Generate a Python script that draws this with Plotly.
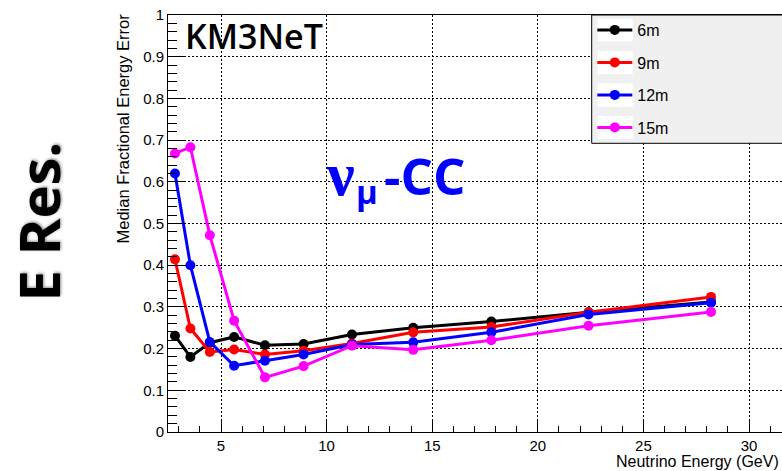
import plotly.graph_objects as go

# Median fractional energy error vs neutrino energy, for several string spacings
energy = [2.82, 3.55, 4.47, 5.62, 7.08, 8.91, 11.2, 14.1, 17.8, 22.4, 28.2]
err_6m = [0.231, 0.180, 0.214, 0.228, 0.208, 0.211, 0.234, 0.250, 0.265, 0.287, 0.312]
err_9m = [0.414, 0.248, 0.192, 0.198, 0.186, 0.195, 0.212, 0.239, 0.252, 0.287, 0.324]
err_12m = [0.620, 0.400, 0.216, 0.159, 0.171, 0.186, 0.210, 0.215, 0.239, 0.282, 0.310]
err_15m = [0.668, 0.683, 0.472, 0.267, 0.131, 0.158, 0.207, 0.197, 0.220, 0.255, 0.288]

series_names = ["6m", "9m", "12m", "15m"]
series_values = [err_6m, err_9m, err_12m, err_15m]
series_colors = ["#000000", "#ff0000", "#0000ff", "#ff00ff"]

W, H = 782, 471
L, R, T, B = 168, 0, 15, 39
PW, PH = W - L - R, H - T - B


def px(x):
    """figure pixel column -> paper x"""
    return (x - L) / PW


def py(y):
    """figure pixel row -> paper y"""
    return (H - B - y) / PH


fig = go.Figure()
legend_ids = ["legend", "legend2", "legend3", "legend4"]
for name, vals, col, lid in zip(series_names, series_values, series_colors, legend_ids):
    fig.add_trace(go.Scatter(
        x=energy, y=vals, name=name, mode="lines+markers",
        line=dict(color=col, width=3),
        marker=dict(color=col, size=10),
        legend=lid,
    ))

tick_font = dict(family="Liberation Sans, Arial", size=15, color="black")

fig.update_xaxes(
    range=[2.49, 31.56], tick0=0, dtick=5,
    ticks="inside", ticklen=12, tickcolor="black", tickwidth=1,
    minor=dict(dtick=1, ticks="inside", ticklen=6, tickcolor="black", showgrid=False),
    showline=True, linecolor="black", linewidth=1, mirror=True,
    showgrid=True, gridcolor="black", gridwidth=1, griddash="2px,2px",
    zeroline=False, tickfont=tick_font,
)
fig.update_yaxes(
    range=[0, 1], tick0=0, dtick=0.1,
    ticks="inside", ticklen=18, tickcolor="black", tickwidth=1,
    minor=dict(dtick=0.02, ticks="inside", ticklen=9, tickcolor="black", showgrid=False),
    showline=True, linecolor="black", linewidth=1, mirror=False,
    showgrid=True, gridcolor="black", gridwidth=1, griddash="2px,2px",
    zeroline=False, tickfont=tick_font,
)

# Legend frame and white symbol patches
legend_rows = [30, 62.5, 95, 127.5]
shapes = [dict(type="rect", xref="paper", yref="paper",
               x0=px(591.7), x1=1.2, y0=py(143.3), y1=1.0,
               fillcolor="#f0f0f0", line=dict(color="black", width=1), layer="above")]
for yc in legend_rows:
    shapes.append(dict(type="rect", xref="paper", yref="paper",
                       x0=px(597.3), x1=px(632.7), y0=py(yc + 11.5), y1=py(yc - 11.5),
                       fillcolor="white", line=dict(width=0), layer="above"))

legend_style = dict(xanchor="left", yanchor="middle", bgcolor="rgba(0,0,0,0)",
                    borderwidth=0, itemwidth=35,
                    font=dict(family="Liberation Sans, Arial", size=16, color="black"))
legends = {}
for lid, yc in zip(legend_ids, legend_rows):
    legends[lid] = dict(x=px(592.3), y=py(yc), **legend_style)

annotations = [
    dict(text="KM3NeT", xref="paper", yref="paper", x=px(183), y=py(35.5),
         xanchor="left", yanchor="middle", showarrow=False,
         font=dict(family="Open Sans", size=34, weight=600, color="black")),
    dict(text="ν", xref="paper", yref="paper", x=px(340), y=py(174),
         xanchor="center", yanchor="middle", showarrow=False,
         font=dict(family="Liberation Serif", size=62, weight="bold", color="#0000ff")),
    dict(text="μ", xref="paper", yref="paper", x=px(367), y=py(191),
         xanchor="center", yanchor="middle", showarrow=False,
         font=dict(family="Open Sans", size=33, weight="bold", color="#0000ff")),
    dict(text="-CC", xref="paper", yref="paper", x=px(424), y=py(175),
         xanchor="center", yanchor="middle", showarrow=False,
         font=dict(family="Open Sans", size=51, weight="bold", color="#0000ff")),
    dict(text="E Res.", xref="paper", yref="paper", x=px(37), y=py(221.5),
         xanchor="center", yanchor="middle", textangle=-90, showarrow=False,
         font=dict(family="Open Sans", size=56, weight="bold", color="black",
                   shadow="1px 1px 3px rgba(0,0,0,0.45)")),
    dict(text="Median Fractional Energy Error", xref="paper", yref="paper",
         x=px(122.5), y=py(12), xanchor="center", yanchor="top", textangle=-90,
         showarrow=False, font=dict(family="Liberation Sans, Arial", size=16.5, color="black")),
    dict(text="Neutrino Energy (GeV)", xref="paper", yref="paper",
         x=px(781), y=py(461), xanchor="right", yanchor="middle",
         showarrow=False, font=dict(family="Liberation Sans, Arial", size=16, color="black")),
]

fig.update_layout(
    width=W, height=H,
    margin=dict(l=L, r=R, t=T, b=B, pad=0),
    paper_bgcolor="white", plot_bgcolor="white",
    showlegend=True,
    shapes=shapes, annotations=annotations,
    **legends,
)

fig.write_html("out.html")
